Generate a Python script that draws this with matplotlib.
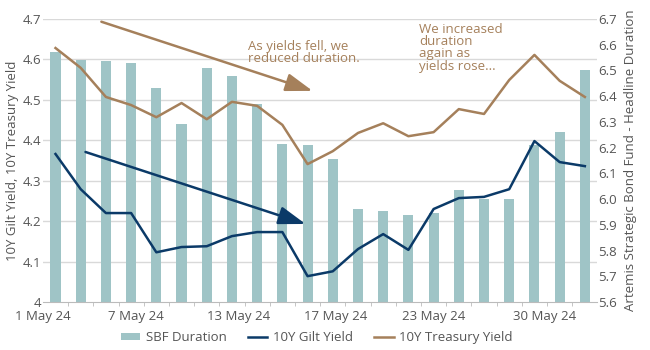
import matplotlib
matplotlib.use("Agg")
import matplotlib.pyplot as plt
import numpy as np

plt.rcParams['font.family'] = ['Open Sans', 'DejaVu Sans']

dates = ["1 May 24", "2 May 24", "3 May 24", "7 May 24", "8 May 24", "9 May 24",
         "10 May 24", "13 May 24", "14 May 24", "15 May 24", "16 May 24", "17 May 24",
         "20 May 24", "21 May 24", "22 May 24", "23 May 24", "24 May 24", "27 May 24",
         "28 May 24", "29 May 24", "30 May 24", "31 May 24"]
sbf_duration = [6.57, 6.54, 6.535, 6.53, 6.43, 6.29, 6.51, 6.48, 6.37, 6.215, 6.21,
                6.155, 5.96, 5.955, 5.94, 5.945, 6.035, 6.0, 6.0, 6.21, 6.26, 6.5]
gilt_yield = [4.366, 4.279, 4.220, 4.220, 4.123, 4.136, 4.138, 4.163, 4.173, 4.173,
              4.064, 4.076, 4.131, 4.168, 4.129, 4.230, 4.257, 4.260, 4.279, 4.398,
              4.346, 4.336]
treasury_yield = [4.628, 4.579, 4.507, 4.487, 4.457, 4.492, 4.452, 4.495, 4.485, 4.438,
                  4.341, 4.373, 4.418, 4.442, 4.410, 4.420, 4.477, 4.465, 4.549, 4.611,
                  4.547, 4.507]
tick_dates = ["1 May 24", "7 May 24", "13 May 24", "17 May 24", "23 May 24", "30 May 24"]
tick_label_shift = [-0.5, 0.2, 0.25, 0.1, 0.0, -0.6]   # label placement relative to its day
left_ticks = [4, 4.1, 4.2, 4.3, 4.4, 4.5, 4.6, 4.7]
left_tick_labels = ["4", "4.1", "4.2", "4.3", "4.4", "4.5", "4.6", "4.7"]
right_ticks = [5.6, 5.7, 5.8, 5.9, 6.0, 6.1, 6.2, 6.3, 6.4, 6.5, 6.6, 6.7]

BAR = "#9FC4C6"
NAVY = "#0B3A68"
BROWN = "#A5805B"
TXT = "#555555"
GRID = "#D9D9D9"
FS = 9.5

fig = plt.figure(figsize=(6.5, 3.5), dpi=100)
ax = fig.add_axes([0.066, 0.137, 0.852, 0.809])
ax2 = ax.twinx()

x = np.arange(len(dates))
ax2.bar(x, sbf_duration, width=0.4, color=BAR, zorder=1, label="SBF Duration")
ax2.set_ylim(5.6, 6.7)
ax2.set_yticks(right_ticks)
ax2.set_yticklabels([f"{v:.1f}" for v in right_ticks])

ax.set_zorder(ax2.get_zorder() + 1)
ax.patch.set_visible(False)
ax.plot(x, gilt_yield, color=NAVY, lw=1.8, label="10Y Gilt Yield", zorder=3)
ax.plot(x, treasury_yield, color=BROWN, lw=1.8, label="10Y Treasury Yield", zorder=3)
ax.set_ylim(4, 4.7)
ax.set_yticks(left_ticks)
ax.set_yticklabels(left_tick_labels)
ax.set_xlim(-0.36, len(dates) - 0.53)

for v in left_ticks[1:]:
    ax2.axhline(5.6 + (v - 4) * (1.1 / 0.7), color=GRID, lw=1, zorder=0)

tick_pos = [dates.index(d) + s for d, s in zip(tick_dates, tick_label_shift)]
ax.set_xticks(tick_pos)
ax.set_xticklabels(tick_dates)
ax.set_xticks(np.arange(0.5, len(dates) - 1, 1.0), minor=True)
ax.tick_params(axis='x', which='major', length=0, pad=6, labelsize=FS, colors=TXT)
ax.tick_params(axis='x', which='minor', length=3, color="#BBBBBB")
ax.tick_params(axis='y', length=0, pad=1, labelsize=FS, colors=TXT)
ax2.tick_params(axis='y', length=0, pad=1, labelsize=FS, colors=TXT)

for a in (ax, ax2):
    for s in ("top", "left", "right"):
        a.spines[s].set_visible(False)
ax.spines["bottom"].set_color("#BBBBBB")
ax2.spines["bottom"].set_visible(False)

ax.set_ylabel("10Y Gilt Yield, 10Y Treasury Yield", color=TXT, fontsize=FS, labelpad=3)
ax2.set_ylabel("Artemis Strategic Bond Fund - Headline Duration", color=TXT,
               fontsize=FS, labelpad=5, rotation=90)

arrow_style = "-|>,head_length=1.5,head_width=0.5"
ax.annotate("", xy=(10.2, 4.522), xytext=(1.82, 4.693),
            arrowprops=dict(arrowstyle=arrow_style, color=BROWN, lw=1.8,
                            mutation_scale=11, shrinkA=0, shrinkB=0), zorder=4)
ax.annotate("", xy=(9.92, 4.193), xytext=(1.19, 4.371),
            arrowprops=dict(arrowstyle=arrow_style, color=NAVY, lw=1.8,
                            mutation_scale=11, shrinkA=0, shrinkB=0), zorder=4)
ax.text(7.63, 4.648, "As yields fell, we\nreduced duration.", color=BROWN,
        fontsize=FS, va="top", ha="left", linespacing=0.92)
ax.text(14.43, 4.69, "We increased\nduration\nagain as\nyields rose...", color=BROWN,
        fontsize=FS, va="top", ha="left", linespacing=0.92)

h1, l1 = ax2.get_legend_handles_labels()
h2, l2 = ax.get_legend_handles_labels()
fig.legend(h1 + h2, l1 + l2, loc="center", bbox_to_anchor=(0.487, 0.035),
           ncol=3, frameon=False, fontsize=FS, handlelength=1.5, handleheight=0.4,
           handletextpad=0.4, columnspacing=1.6, labelcolor=TXT)

fig.savefig("out.png", dpi=100)
